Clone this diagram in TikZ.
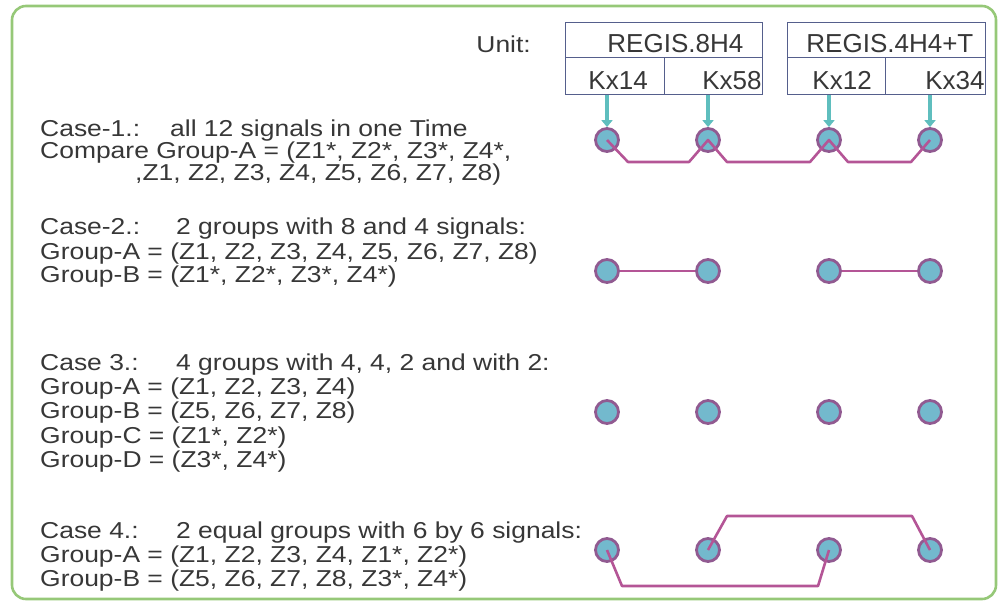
\documentclass[tikz,border=0pt]{standalone}
\usepackage{fontspec}
\setmainfont{Liberation Sans}
\newfontfamily\bodyfont[FakeStretch=1.15]{Liberation Sans}
\usetikzlibrary{arrows.meta}
\definecolor{framegreen}{RGB}{150,200,120}
\definecolor{tableline}{RGB}{85,95,140}
\definecolor{feedteal}{RGB}{95,190,190}
\definecolor{padfill}{RGB}{115,185,205}
\definecolor{padring}{RGB}{145,90,145}
\definecolor{linkmag}{RGB}{180,85,150}
\definecolor{txt}{RGB}{55,55,55}
\tikzset{
  txtline/.style={anchor=base west, inner sep=0pt, text=txt, font=\bodyfont\fontsize{23}{25}\selectfont},
  cell/.style={draw=tableline, line width=0.9pt, inner sep=0pt, text=txt, font=\fontsize{26}{28}\selectfont},
  pad/.style={circle, draw=padring, fill=padfill, line width=2.8pt, minimum size=23pt, inner sep=0pt},
  feed/.style={draw=feedteal, line width=4.5pt, -{Triangle[length=7pt,width=11pt]}},
  link/.style={draw=linkmag, line width=2.6pt, line join=round}
}
\begin{document}
\begin{tikzpicture}[x=1pt,y=-1pt]
\useasboundingbox (0,0) rectangle (1003,600);
% outer frame
\draw[framegreen, line width=2.6pt, rounded corners=14pt] (12,6) rectangle (996,599);

% unit table
\node[txtline, anchor=base east] (unit) at (531,52) {Unit:};
\node[cell, minimum width=197pt, minimum height=35pt] (r1) at (663.5,39.5) {};
\node[cell, minimum width=198pt, minimum height=35pt] (r2) at (886,39.5) {};
\node[cell, minimum width=99pt, minimum height=37pt] (k14) at (614.5,75.5) {};
\node[cell, minimum width=98pt, minimum height=37pt] (k58) at (713,75.5) {};
\node[cell, minimum width=98pt, minimum height=37pt] (k12) at (836,75.5) {};
\node[cell, minimum width=100pt, minimum height=37pt] (k34) at (935,75.5) {};
\node[cell, draw=none, anchor=base west] at (607,52) {REGIS.8H4};
\node[cell, draw=none, anchor=base west] at (806,52) {REGIS.4H4+T};
\node[cell, draw=none, anchor=base west] at (588,89) {Kx14};
\node[cell, draw=none, anchor=base east] at (762,89) {Kx58};
\node[cell, draw=none, anchor=base west] at (812,89) {Kx12};
\node[cell, draw=none, anchor=base east] at (985,89) {Kx34};

% case 1 pads
\node[pad] (c11) at (607,140) {};
\node[pad] (c12) at (708,140) {};
\node[pad] (c13) at (829,140) {};
\node[pad] (c14) at (930,140) {};
\draw[feed] (607,95) -- (c11.north);
\draw[feed] (708,95) -- (c12.north);
\draw[feed] (829,95) -- (c13.north);
\draw[feed] (930,95) -- (c14.north);
\draw[link] (c11.center) -- (628,162) -- (689,162) -- (c12.center)
  -- (727,162) -- (810,162) -- (c13.center) -- (848,162) -- (911,162) -- (c14.center);

% case 2 pads
\node[pad] (c21) at (607,271) {};
\node[pad] (c22) at (708,271) {};
\node[pad] (c23) at (829,271) {};
\node[pad] (c24) at (930,271) {};
\draw[link] (c21) -- (c22);
\draw[link] (c23) -- (c24);

% case 3 pads
\node[pad] (c31) at (607,412) {};
\node[pad] (c32) at (708,412) {};
\node[pad] (c33) at (829,412) {};
\node[pad] (c34) at (930,412) {};

% case 4 pads
\node[pad] (c41) at (607,550) {};
\node[pad] (c42) at (708,550) {};
\node[pad] (c43) at (829,550) {};
\node[pad] (c44) at (930,550) {};
\draw[link] (c42.center) -- (727,516) -- (912,516) -- (c44.center);
\draw[link] (c41.center) -- (622,586) -- (818,586) -- (c43.center);

% case descriptions
\node[txtline] (t11) at (40,136) {\makebox[130pt][l]{Case-1.:}all 12 signals in one Time};
\node[txtline] (t12) at (40,158) {Compare Group-A = (Z1*, Z2*, Z3*, Z4*,};
\node[txtline] (t13) at (135,180) {,Z1, Z2, Z3, Z4, Z5, Z6, Z7, Z8)};

\node[txtline] (t21) at (40,234) {\makebox[136pt][l]{Case-2.:}2 groups with 8 and 4 signals:};
\node[txtline] (t22) at (40,259) {Group-A = (Z1, Z2, Z3, Z4, Z5, Z6, Z7, Z8)};
\node[txtline] (t23) at (40,282) {Group-B = (Z1*, Z2*, Z3*, Z4*)};

\node[txtline] (t31) at (40,370) {\makebox[136pt][l]{Case 3.:}4 groups with 4, 4, 2 and with 2:};
\node[txtline] (t32) at (40,394) {Group-A = (Z1, Z2, Z3, Z4)};
\node[txtline] (t33) at (40,418) {Group-B = (Z5, Z6, Z7, Z8)};
\node[txtline] (t34) at (40,443) {Group-C = (Z1*, Z2*)};
\node[txtline] (t35) at (40,467) {Group-D = (Z3*, Z4*)};

\node[txtline] (t41) at (40,538) {\makebox[136pt][l]{Case 4.:}2 equal groups with 6 by 6 signals:};
\node[txtline] (t42) at (40,562) {Group-A = (Z1, Z2, Z3, Z4, Z1*, Z2*)};
\node[txtline] (t43) at (40,586) {Group-B = (Z5, Z6, Z7, Z8, Z3*, Z4*)};
\end{tikzpicture}
\end{document}
